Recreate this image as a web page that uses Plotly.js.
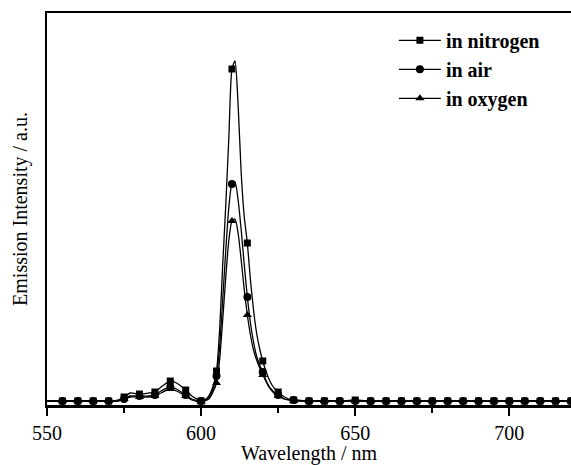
<!DOCTYPE html>
<html>
<head>
<meta charset="utf-8">
<script src="https://cdn.plot.ly/plotly-3.0.1.min.js"></script>
<style>html,body{margin:0;padding:0;background:#fff;}</style>
</head>
<body>
<div id="chart" style="width:571px;height:465px;"></div>
<script>
// Wavelength grid of the continuous curves (nm)
const lineNm = [550,555,560,565,570,573,575,577,580,583,585,587,590,592,595,597,600,
  601,602,603,604,605,606,607,608,609,610,611,612,613,614,615,616,617,618,619,620,621,622,623,624,625,
  627,630,
  635,640,645,650,655,660,665,670,675,680,685,690,695,700,705,710,715,720];

// Emission intensity (a.u.) of the continuous curves
const nitrogenLine = [4,4,4,4,4,5,8,12,11,12,13,18,24,22,15,9,4,
  5,7,12,20,34,75,140,200,268,336,344,300,232,188,162,125,95,72,56,44,34,26,20,16,13,
  8,5,
  4,4,4,5,4,4,4,4,4,4,4,4,4,4,4,4,4,4];
const airLine = [4,4,4,4,4,4,6,9,9,9,10,14,18,16,10,6,4,
  4,6,10,17,29,58,105,155,198,221,223,205,175,140,108,82,63,49,40,33,25,19,15,12,10,
  6,5,
  4,4,4,4,4,4,4,4,4,4,4,4,4,4,4,4,4,4];
const oxygenLine = [4,4,4,4,4,4,6,8,8,8,9,12,16,14,9,5,3,
  4,5,8,14,22,45,85,128,165,184,186,172,145,115,90,70,55,45,37,30,24,18,14,11,9,
  6,4,
  4,4,4,4,4,4,4,4,4,4,4,4,4,4,4,4,4,4];

// Wavelengths at which symbols are drawn (nm)
const markerNm = [555,560,565,570,575,580,585,590,595,600,605,610,615,620,625,630,
  635,640,645,650,655,660,665,670,675,680,685,690,695,700,705,710,715,720];
const nitrogenMarkers = [4,4,4,4,8,11,13,24,15,4,34,336,162,44,13,5,
  4,4,4,5,4,4,4,4,4,4,4,4,4,4,4,4,4,4];
const airMarkers = [4,4,4,4,6,9,10,18,10,4,29,221,108,33,10,5,
  4,4,4,4,4,4,4,4,4,4,4,4,4,4,4,4,4,4];
const oxygenMarkers = [4,4,4,4,6,8,9,16,9,3,22,184,90,30,9,4,
  4,4,4,4,4,4,4,4,4,4,4,4,4,4,4,4,4,4];

const seriesNames = ['in nitrogen','in air','in oxygen'];
const xTicks = [550,600,650,700];
const xMinorTicks = [575,625,675];

const series = [
  {name: seriesNames[0], line: nitrogenLine, markers: nitrogenMarkers, symbol: 'square', size: 7},
  {name: seriesNames[1], line: airLine, markers: airMarkers, symbol: 'circle', size: 8},
  {name: seriesNames[2], line: oxygenLine, markers: oxygenMarkers, symbol: 'triangle-up', size: 8}
];

const FONT = 'Liberation Serif, Times New Roman, serif';
const traces = [];
series.forEach(s => {
  traces.push({x: lineNm, y: s.line, mode: 'lines', showlegend: false, hoverinfo: 'skip',
    line: {color: '#000', width: 1.3, shape: 'spline', smoothing: 0.6}});
  traces.push({x: markerNm, y: s.markers, mode: 'markers', showlegend: false,
    marker: {symbol: s.symbol, size: s.size, color: '#000'}});
});
series.forEach(s => {
  traces.push({x: [null], y: [null], mode: 'lines+markers', name: s.name,
    line: {color: '#000', width: 1.3},
    marker: {symbol: s.symbol, size: s.size, color: '#000'}});
});

const layout = {
  width: 571, height: 465,
  margin: {l: 47, r: 0, t: 13, b: 60, pad: 0},
  paper_bgcolor: '#fff', plot_bgcolor: '#fff',
  font: {family: FONT, color: '#000'},
  showlegend: true,
  legend: {x: 0.662, y: 0.98, xanchor: 'left', yanchor: 'top', bgcolor: 'rgba(0,0,0,0)',
    itemwidth: 42,
    font: {family: FONT, size: 20, weight: 'bold', color: '#000'}, tracegroupgap: 0},
  xaxis: {
    range: [550, 720], tickmode: 'array', tickvals: xTicks, ticktext: xTicks.map(String),
    ticks: 'outside', ticklen: 8, tickwidth: 2, tickcolor: '#000',
    showline: true, linewidth: 2.5, linecolor: '#000', mirror: true,
    showgrid: false, zeroline: false, automargin: false,
    tickfont: {family: FONT, size: 20, color: '#000'},
    minor: {tickmode: 'array', tickvals: xMinorTicks, ticks: 'outside', ticklen: 5, tickwidth: 2, tickcolor: '#000', showgrid: false},
    title: {text: 'Wavelength / nm', font: {family: FONT, size: 20, color: '#000'}, standoff: 14}
  },
  yaxis: {
    range: [0, 392], showticklabels: false, ticks: '',
    showline: true, linewidth: 2.5, linecolor: '#000', mirror: false,
    showgrid: false, zeroline: false, automargin: false,
    title: {text: 'Emission Intensity / a.u.', font: {family: FONT, size: 20, color: '#000'}, standoff: 12}
  }
};

Plotly.newPlot('chart', traces, layout, {displayModeBar: false, staticPlot: true});
</script>
</body>
</html>
